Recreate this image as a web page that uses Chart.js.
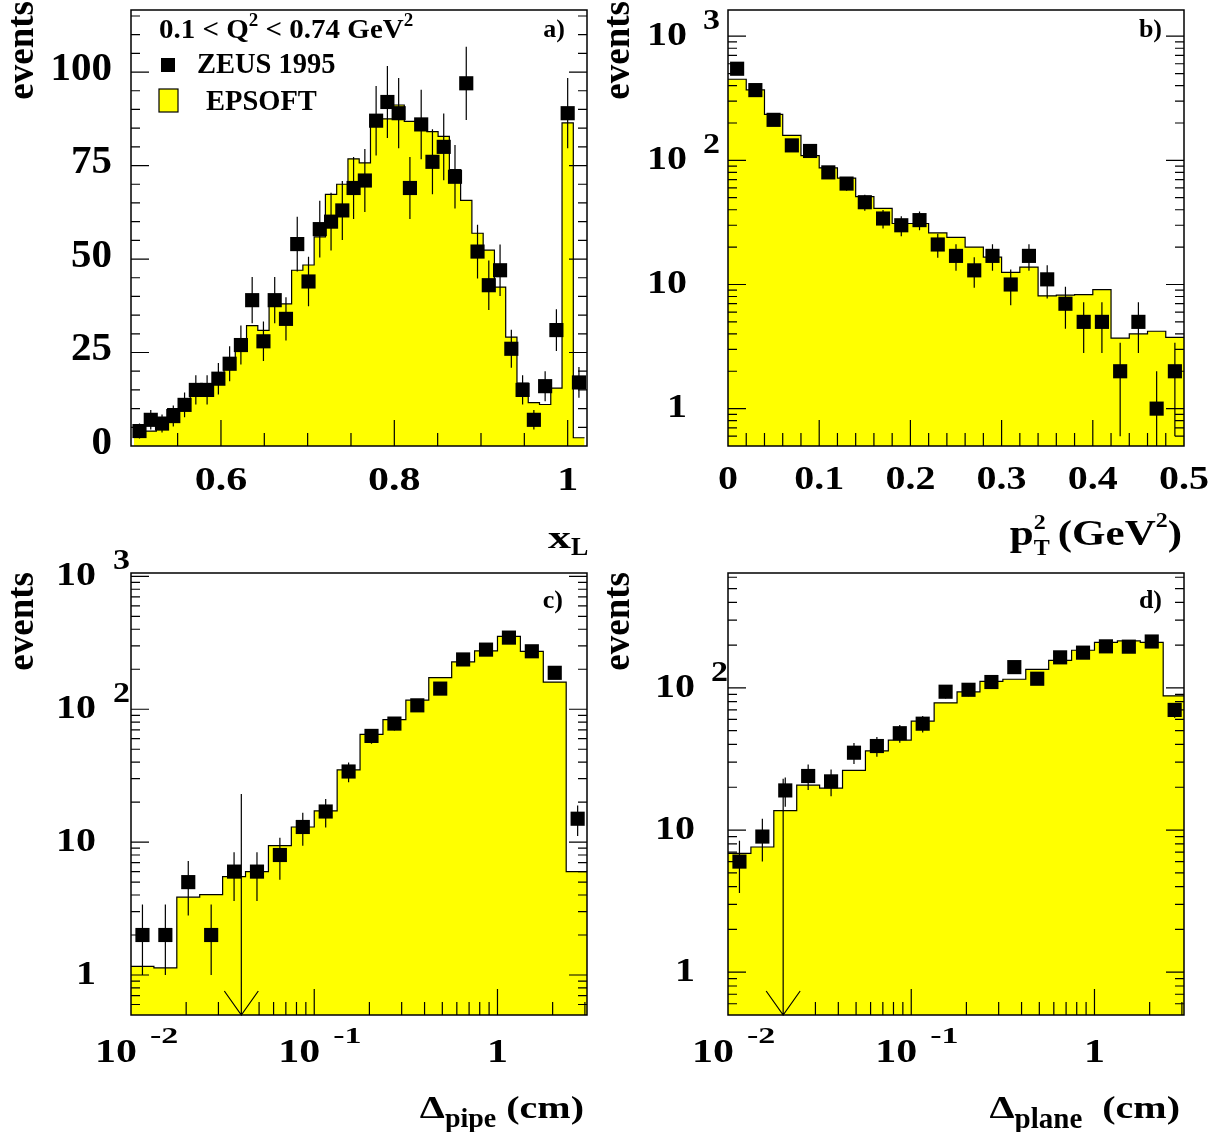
<!DOCTYPE html>
<html>
<head>
<meta charset="utf-8">
<title>ZEUS 1995 - x_L, pT2, Delta pipe, Delta plane</title>
<script src="https://cdn.jsdelivr.net/npm/chart.js@4.4.1/dist/chart.umd.min.js"></script>
<style>
  body { margin: 0; background: #fff; }
  #wrap { position: relative; width: 1229px; height: 1132px; overflow: hidden; }
  #wrap canvas { position: absolute; }
</style>
</head>
<body>
<div id="wrap">
  <canvas id="chartA" width="600" height="566" style="left:0;top:0;width:600px;height:566px"></canvas>
  <canvas id="chartB" width="629" height="566" style="left:600px;top:0;width:629px;height:566px"></canvas>
  <canvas id="chartC" width="600" height="592" style="left:0;top:540px;width:600px;height:592px"></canvas>
  <canvas id="chartD" width="629" height="592" style="left:600px;top:540px;width:629px;height:592px"></canvas>
</div>
<script>
// a) x_L
const xlEdges = [0.4995, 0.5125, 0.5255, 0.5385, 0.5515, 0.5645, 0.5775, 0.5905, 0.6035, 0.6165,
  0.6295, 0.6425, 0.6555, 0.6685, 0.6815, 0.6945, 0.7075, 0.7205, 0.7335, 0.7465,
  0.7595, 0.7725, 0.7855, 0.7985, 0.8115, 0.8245, 0.8375, 0.8505, 0.8635, 0.8765,
  0.8895, 0.9025, 0.9155, 0.9285, 0.9415, 0.9545, 0.9675, 0.9805, 0.9935, 1.0065, 1.0195];
const xlZeus = [4, 7, 6, 8, 11, 15, 15, 18, 22, 27, 39, 28, 39, 34, 54, 44, 58, 60, 63, 69,
  71, 87, 92, 89, 69, 86, 76, 80, 72, 97, 52, 43, 47, 26, 15, 7, 16, 31, 89, 17];
const xlZeusErr = [2.0, 2.6, 2.4, 2.8, 3.3, 3.9, 3.9, 4.2, 4.7, 5.2, 6.2, 5.3, 6.2, 5.8, 7.3, 6.6, 7.6, 7.7, 7.9, 8.3,
  8.4, 9.3, 9.6, 9.4, 8.3, 9.3, 8.7, 8.9, 8.5, 9.8, 7.2, 6.6, 6.9, 5.1, 3.9, 2.6, 4.0, 5.6, 9.4, 4.1];
const xlEpsoft = [3, 4, 5, 10, 12, 15.4, 15.5, 18.6, 22.5, 27.8, 32.2, 30.9, 37.9, 38, 47, 48.4, 55.9, 67.3, 70, 76.8,
  75.7, 87.5, 87.5, 91.2, 86.8, 87, 84.1, 82.8, 73.9, 65.7, 56.9, 52.4, 42.5, 29.1, 16.8, 11.6, 11.1, 15.5, 86.4, 2.2];
const xlTickLabels = [0.6, 0.8, 1];
const xlYTickLabels = [0, 25, 50, 75, 100];

// b) pT2
const ptEdges = [0, 0.02, 0.04, 0.06, 0.08, 0.1, 0.12, 0.14, 0.16, 0.18, 0.2, 0.22, 0.24,
  0.26, 0.28, 0.3, 0.32, 0.34, 0.36, 0.38, 0.4, 0.42, 0.44, 0.46, 0.48, 0.5];
const ptZeus = [547, 368, 212, 132, 119, 80, 65, 46, 34, 30, 33, 21, 17, 13, 17, 10, 17, 11, 7, 5, 5, 2, 5, 1, 2];
const ptZeusErr = [23.4, 19.2, 14.6, 11.5, 10.9, 8.9, 8.1, 6.8, 5.8, 5.5, 5.7, 4.6, 4.1, 3.6, 4.1, 3.2, 4.1, 3.3, 2.6, 2.2, 2.2, 1.4, 2.2, 1.0, 1.4];
const ptEpsoft = [450, 370, 235, 159, 109, 87, 72, 51, 41, 31, 31, 26, 24, 20, 16.6, 12.5, 13.8, 8.1, 8.2, 8.3, 9.1, 3.7, 4.0, 4.2, 3.75];
const ptTickLabels = [0, 0.1, 0.2, 0.3, 0.4, 0.5];

// c) Delta pipe, d) Delta plane
const deltaEdges = [0.01, 0.013335, 0.017783, 0.023714, 0.031623, 0.04217, 0.056234, 0.074989, 0.1,
  0.13335, 0.17783, 0.23714, 0.31623, 0.4217, 0.56234, 0.74989, 1, 1.3335, 1.7783, 2.3714, 3.1623];
const pipeZeus = [2, 2, 5, 2, 6, 6, 8, 13, 17, 34, 63, 78, 107, 143, 237, 281, 346, 273, 188, 15];
const pipeErrLo = [1.0, 1.0, 2.2, 1.0, 2.4, 2.4, 2.8, 3.6, 4.1, 5.8, 7.9, 8.8, 10.3, 12, 15.4, 16.8, 18.6, 16.5, 13.7, 3.9];
const pipeErrHi = [1.4, 1.4, 2.2, 1.4, 2.4, 2.4, 2.8, 3.6, 4.1, 5.8, 7.9, 8.8, 10.3, 12, 15.4, 16.8, 18.6, 16.5, 13.7, 3.9];
const pipeEpsoft = [1.16, 1.13, 3.85, 4.03, 5.5, 6.0, 9.4, 13, 17.2, 35, 64.8, 83.5, 117, 173, 227, 275, 354, 273, 160, 6.0];
const planeZeus = [6, 9, 19, 24, 22, 35, 39, 48, 56, 94, 97, 110, 140, 116, 164, 177, 196, 195, 212, 70];
const planeErr = [2.4, 3.0, 4.4, 4.9, 4.7, 5.9, 6.2, 6.9, 7.5, 9.7, 9.8, 10.5, 11.8, 10.8, 12.8, 13.3, 14, 14, 14.6, 8.4];
const planeEpsoft = [6.86, 7.6, 13.7, 20.7, 19.7, 26.3, 36.1, 42.9, 58.3, 78.5, 93.7, 111, 115, 135, 156, 184, 209, 214, 209, 88];
const pipeCut = 0.04;
const planeCut = 0.02;
const cutArrowTop = 23;
const deltaTickLabels = [[0.01, '10', '-2'], [0.1, '10', '-1'], [1, '1', '']];
const eventTickLabels = [[1, '1', ''], [10, '10', ''], [100, '10', '2'], [1000, '10', '3']];

const SERIF = '"Liberation Serif", "Times New Roman", serif';
const YELLOW = '#ffff00';

function put(ctx, s, x, y, size, align, sy, base) {
  ctx.save();
  ctx.translate(x, y);
  ctx.scale(1, sy || 1);
  ctx.font = 'bold ' + size + 'px ' + SERIF;
  ctx.textAlign = align || 'left';
  ctx.textBaseline = base || 'alphabetic';
  ctx.fillStyle = '#000';
  ctx.fillText(s, 0, 0);
  ctx.restore();
}

// pieces of text one after the other, dy for sub/superscripts
function putRich(ctx, segs, x, y, align) {
  let total = 0;
  segs.forEach(g => {
    ctx.font = 'bold ' + g.size + 'px ' + SERIF;
    g.w = g.keep ? 0 : ctx.measureText(g.t).width + (g.gap || 0);
    total += g.w;
  });
  let cx = align === 'right' ? x - total : x;
  segs.forEach(g => {
    put(ctx, g.t, cx, y + (g.dy || 0), g.size, 'left', g.sy);
    cx += g.w;
  });
}

function putEvents(ctx, bx, top) {
  ctx.save();
  ctx.translate(bx, top);
  ctx.rotate(-Math.PI / 2);
  put(ctx, 'events', 0, 0, 37, 'right');
  ctx.restore();
}

function putLogY(ctx, y, labels, right, expLeft) {
  labels.forEach(([v, m, e]) => {
    if (v < y.min || v > y.max) return;
    const py = y.getPixelForValue(v);
    put(ctx, m, right, py, 40, 'right', 0.85, 'middle');
    if (e) put(ctx, e, expLeft, py - 7, 34, 'left', 0.87);
  });
}

function putLogX(ctx, x, labels, midY) {
  labels.forEach(([v, m, e]) => {
    const px = x.getPixelForValue(v);
    if (e) {
      put(ctx, m, px - 15, midY, 42, 'center', 0.8, 'middle');
      put(ctx, e, px + 19, midY - 10, 34, 'left', 0.7);
    } else {
      put(ctx, m, px, midY, 42, 'center', 0.8, 'middle');
    }
  });
}

function ticks(major, lo, hi, step) {
  const minor = [];
  for (let i = 0; lo + i * step <= hi + 1e-9; i++) {
    const v = +(lo + i * step).toFixed(6);
    if (!major.some(m => Math.abs(m - v) < 1e-9)) minor.push(v);
  }
  return { major, minor };
}

function logTicks(lo, hi) {
  const major = [], minor = [];
  for (let e = -3; e <= 4; e++) {
    for (let k = 1; k < 10; k++) {
      const v = +(k * Math.pow(10, e)).toPrecision(3);
      if (v < lo || v > hi) continue;
      (k === 1 ? major : minor).push(v);
    }
  }
  return { major, minor };
}

function drawErrors(chart) {
  const ds = chart.data.datasets[0];
  const { ctx, chartArea: a } = chart;
  const { x, y } = chart.scales;
  ctx.save();
  ctx.beginPath();
  ctx.rect(a.left, a.top, a.right - a.left, a.bottom - a.top);
  ctx.clip();
  ctx.strokeStyle = '#000';
  ctx.lineWidth = 1.2;
  ctx.beginPath();
  ds.data.forEach((p, i) => {
    const lo = Math.max(p.y - ds.errLo[i], y.min);
    const hi = p.y + ds.errHi[i];
    const px = x.getPixelForValue(p.x);
    ctx.moveTo(px, y.getPixelForValue(lo));
    ctx.lineTo(px, y.getPixelForValue(hi));
  });
  ctx.stroke();
  ctx.restore();
}

function drawFrame(chart, p) {
  const { ctx, chartArea: a } = chart;
  const { x, y } = chart.scales;
  ctx.save();
  ctx.strokeStyle = '#000';
  ctx.lineWidth = 1.2;
  ctx.beginPath();
  const xt = (list, len) => list.forEach(v => {
    const px = x.getPixelForValue(v);
    if (px < a.left + 1.5 || px > a.right - 1.5) return;
    ctx.moveTo(px, a.bottom);
    ctx.lineTo(px, a.bottom - len);
  });
  const yt = (list, len) => list.forEach(v => {
    const py = y.getPixelForValue(v);
    if (py < a.top + 1.5 || py > a.bottom - 1.5) return;
    ctx.moveTo(a.left, py);
    ctx.lineTo(a.left + len, py);
    ctx.moveTo(a.right, py);
    ctx.lineTo(a.right - len, py);
  });
  xt(p.x.major, 26);
  xt(p.x.minor, 13);
  yt(p.y.major, 18);
  yt(p.y.minor, 9);
  if (p.cut) {
    const cx = x.getPixelForValue(p.cut);
    ctx.moveTo(cx, y.getPixelForValue(cutArrowTop));
    ctx.lineTo(cx, a.bottom);
    ctx.moveTo(cx - 17, a.bottom - 24);
    ctx.lineTo(cx, a.bottom);
    ctx.lineTo(cx + 17, a.bottom - 24);
  }
  ctx.stroke();
  ctx.lineWidth = 1.5;
  ctx.strokeRect(a.left, a.top, a.right - a.left, a.bottom - a.top);
  ctx.restore();
}

function rootStyle(p) {
  return {
    id: 'rootStyle',
    beforeDatasetDraw(chart, args) { if (args.index === 0) drawErrors(chart); },
    afterDatasetsDraw(chart) { drawFrame(chart, p); },
    afterDraw(chart) { p.text(chart.ctx, chart.scales); }
  };
}

function makePanel(id, p) {
  const log = p.xType === 'logarithmic';
  const centers = p.edges.slice(0, -1).map((e, i) =>
    log ? Math.sqrt(e * p.edges[i + 1]) : (e + p.edges[i + 1]) / 2);
  const zeus = centers.map((c, i) => ({ x: c, y: p.zeus[i] }));
  const mc = p.edges.map((e, i) => ({ x: e, y: p.epsoft[Math.min(i, p.epsoft.length - 1)] }));
  return new Chart(document.getElementById(id), {
    type: 'line',
    data: {
      datasets: [{
        type: 'scatter',
        label: 'ZEUS 1995',
        data: zeus,
        errLo: p.errLo,
        errHi: p.errHi,
        pointStyle: 'rect',
        pointRadius: 10,
        pointBackgroundColor: '#000',
        pointBorderWidth: 0,
        backgroundColor: '#000',
        borderWidth: 0
      }, {
        type: 'line',
        label: 'EPSOFT',
        data: mc,
        stepped: 'before',
        fill: 'start',
        backgroundColor: YELLOW,
        borderColor: '#000',
        borderWidth: 1.2,
        pointRadius: 0
      }]
    },
    options: {
      responsive: false,
      animation: false,
      devicePixelRatio: 1,
      events: [],
      layout: { padding: p.pad },
      plugins: { legend: { display: false }, tooltip: { enabled: false } },
      scales: {
        x: { type: p.xType, min: p.xMin, max: p.xMax, bounds: 'data', display: false },
        y: { type: p.yType, min: p.yMin, max: p.yMax, bounds: 'data', display: false }
      }
    },
    plugins: [rootStyle(p)]
  });
}

makePanel('chartA', {
  edges: xlEdges, zeus: xlZeus, errLo: xlZeusErr, errHi: xlZeusErr, epsoft: xlEpsoft,
  xType: 'linear', xMin: 0.4962, xMax: 1.0223, yType: 'linear', yMin: 0, yMax: 116.6,
  pad: { left: 131, top: 3, right: 13, bottom: 120 },
  x: ticks([0.6, 0.8, 1.0], 0.55, 1.0, 0.05),
  y: ticks([0, 25, 50, 75, 100], 0, 115, 5),
  text(ctx, s) {
    xlYTickLabels.forEach(v => put(ctx, String(v), 112, s.y.getPixelForValue(v) - 3, 41, 'right', 1, 'middle'));
    xlTickLabels.forEach(v => put(ctx, String(v), s.x.getPixelForValue(v), 482, 42, 'center', 0.78, 'middle'));
    putEvents(ctx, 33, 1);
    put(ctx, 'x', 548, 548, 46, 'left', 0.7);
    put(ctx, 'L', 571, 555, 26, 'left', 1);
    putRich(ctx, [
      { t: '0.1 < Q', size: 29, sy: 0.93 },
      { t: '2', size: 19, dy: -12 },
      { t: ' < 0.74 GeV', size: 29, sy: 0.93 },
      { t: '2', size: 19, dy: -12 }
    ], 159, 38);
    ctx.fillStyle = '#000';
    ctx.fillRect(161, 58, 14, 14);
    put(ctx, 'ZEUS 1995', 197, 73, 28.5);
    ctx.fillStyle = YELLOW;
    ctx.fillRect(159, 89, 19, 23);
    ctx.strokeStyle = '#000';
    ctx.lineWidth = 1.2;
    ctx.strokeRect(159, 89, 19, 23);
    put(ctx, 'EPSOFT', 206, 110, 28.5);
    put(ctx, 'a)', 565, 37, 26, 'right');
  }
});

makePanel('chartB', {
  edges: ptEdges, zeus: ptZeus, errLo: ptZeusErr, errHi: ptZeusErr, epsoft: ptEpsoft,
  xType: 'linear', xMin: 0, xMax: 0.5, yType: 'logarithmic', yMin: 0.5, yMax: 1626,
  pad: { left: 128, top: 3, right: 45, bottom: 120 },
  x: ticks([0.1, 0.2, 0.3, 0.4], 0, 0.5, 0.02),
  y: logTicks(0.5, 1626),
  text(ctx, s) {
    putLogY(ctx, s.y, eventTickLabels, 87, 103);
    ptTickLabels.forEach(v => put(ctx, String(v), s.x.getPixelForValue(v), 480, 40, 'center', 0.85, 'middle'));
    putEvents(ctx, 29, 1);
    putRich(ctx, [
      { t: 'p', size: 43, sy: 0.85 },
      { t: '2', size: 24, sy: 0.85, dy: -16, keep: true },
      { t: 'T', size: 24, sy: 0.95, dy: 10, gap: 8 },
      { t: '(GeV', size: 43, sy: 0.85 },
      { t: '2', size: 24, sy: 0.85, dy: -18 },
      { t: ')', size: 43, sy: 0.85 }
    ], 582, 545, 'right');
    put(ctx, 'b)', 562, 37, 26, 'right');
  }
});

makePanel('chartC', {
  edges: deltaEdges, zeus: pipeZeus, errLo: pipeErrLo, errHi: pipeErrHi, epsoft: pipeEpsoft,
  xType: 'logarithmic', xMin: 0.01, xMax: 3.08, yType: 'logarithmic', yMin: 0.5, yMax: 1060,
  pad: { left: 131, top: 33, right: 13, bottom: 117 },
  x: logTicks(0.01, 3.08),
  y: logTicks(0.5, 1060),
  cut: pipeCut,
  text(ctx, s) {
    putLogY(ctx, s.y, eventTickLabels, 96, 113);
    putLogX(ctx, s.x, deltaTickLabels, 513);
    putEvents(ctx, 33, 32);
    putRich(ctx, [
      { t: '\u0394', size: 40, sy: 0.8 },
      { t: 'pipe', size: 28, dy: 9 },
      { t: ' (cm)', size: 40, sy: 0.8 }
    ], 584, 578, 'right');
    put(ctx, 'c)', 563, 68, 26, 'right');
  }
});

makePanel('chartD', {
  edges: deltaEdges, zeus: planeZeus, errLo: planeErr, errHi: planeErr, epsoft: planeEpsoft,
  xType: 'logarithmic', xMin: 0.01, xMax: 3.08, yType: 'logarithmic', yMin: 0.5, yMax: 643,
  pad: { left: 128, top: 33, right: 45, bottom: 117 },
  x: logTicks(0.01, 3.08),
  y: logTicks(0.5, 643),
  cut: planeCut,
  text(ctx, s) {
    putLogY(ctx, s.y, eventTickLabels, 95, 111);
    putLogX(ctx, s.x, deltaTickLabels, 513);
    putEvents(ctx, 29, 32);
    putRich(ctx, [
      { t: '\u0394', size: 40, sy: 0.8 },
      { t: 'plane', size: 29, dy: 10 },
      { t: '  (cm)', size: 40, sy: 0.8 }
    ], 580, 578, 'right');
    put(ctx, 'd)', 562, 68, 26, 'right');
  }
});
</script>
</body>
</html>
